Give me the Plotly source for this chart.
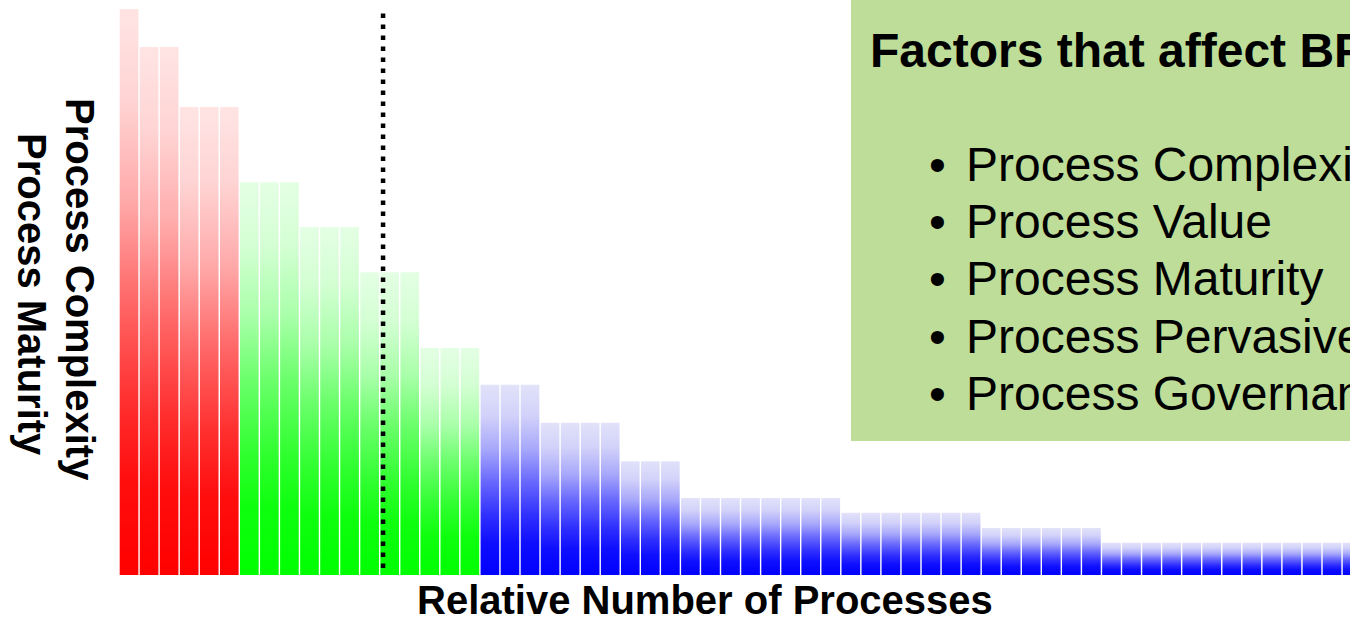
import plotly.graph_objects as go

# ---------------- data ----------------
process_rank = list(range(1, 63))
complexity = [
    100.0, 93.3, 93.3, 82.7, 82.7, 82.7,
    69.4, 69.4, 69.4, 61.5, 61.5, 61.5, 53.5, 53.5, 53.5, 40.1, 40.1, 40.1,
    33.6, 33.6, 33.6, 26.9, 26.9, 26.9, 26.9, 20.1, 20.1, 20.1,
    13.6, 13.6, 13.6, 13.6, 13.6, 13.6, 13.6, 13.6,
    11.0, 11.0, 11.0, 11.0, 11.0, 11.0, 11.0,
    8.3, 8.3, 8.3, 8.3, 8.3, 8.3,
    5.7, 5.7, 5.7, 5.7, 5.7, 5.7, 5.7, 5.7, 5.7, 5.7, 5.7, 5.7, 5.7,
]
tier = (
    ["high", "high", "high", "high", "high", "high"]
    + ["mid", "mid", "mid", "mid", "mid", "mid", "mid", "mid", "mid", "mid", "mid", "mid"]
    + ["low", "low", "low", "low", "low", "low", "low", "low", "low", "low", "low",
       "low", "low", "low", "low", "low", "low", "low", "low", "low", "low", "low",
       "low", "low", "low", "low", "low", "low", "low", "low", "low", "low", "low",
       "low", "low", "low", "low", "low", "low", "low", "low", "low", "low", "low"]
)
threshold_rank = 13.67
x_title = "Relative Number of Processes"
y_title_lines = ["Process Complexity", "Process Maturity"]
box_title = "Factors that affect BPM"
factors = ["Process Complexity", "Process Value", "Process Maturity",
           "Process Pervasiveness", "Process Governance"]

# ---------------- style ----------------
tier_colors = {
    "high": ((255, 0, 0), (255, 228, 228)),
    "mid": ((0, 255, 0), (228, 255, 228)),
    "low": ((0, 0, 255), (226, 226, 250)),
}
# (fraction from bottom, fraction towards pale)
profile = [(0.0, 0.0), (0.17, 0.06), (0.31, 0.21), (0.49, 0.46),
           (0.66, 0.74), (0.84, 0.93), (1.0, 1.0)]


def mix(c0, c1, t):
    return "rgb(%d,%d,%d)" % tuple(round(a + (b - a) * t) for a, b in zip(c0, c1))


def scale_for(t):
    full, pale = tier_colors[t]
    return [[f, mix(full, pale, m)] for f, m in profile]


BAR_W = 0.93
W, H = 1350, 620
L, R, T, B = 119, 0, 0, 45
PW, PH = W - L - R, H - T - B
FONT = "Arial, Liberation Sans, sans-serif"


def px_x(px):
    return (px - L) / PW


def px_y(py):
    return (T + PH - py) / PH


fig = go.Figure()
for r, v, t in zip(process_rank, complexity, tier):
    fig.add_trace(go.Scatter(
        x=[r - BAR_W / 2, r + BAR_W / 2, r + BAR_W / 2, r - BAR_W / 2, r - BAR_W / 2],
        y=[0, 0, v, v, 0],
        mode="lines",
        fill="toself",
        fillgradient=dict(type="vertical", colorscale=scale_for(t)),
        line=dict(width=0, color="rgba(0,0,0,0)"),
        hoverinfo="skip",
        showlegend=False,
    ))

# threshold dotted line
fig.add_shape(type="line", xref="x", yref="paper",
              x0=threshold_rank, x1=threshold_rank, y0=px_y(568), y1=px_y(7),
              line=dict(color="black", width=4.5, dash="4.5px,6.5px"), layer="above")

# factors box
fig.add_shape(type="rect", xref="paper", yref="paper",
              x0=px_x(851), x1=1.3, y0=px_y(441), y1=1.3,
              fillcolor="#BDDD99", line=dict(width=0), layer="below")

ann = []
ann.append(dict(text="<b>%s</b>" % x_title, xref="paper", yref="paper",
                x=px_x(705), y=px_y(600), xanchor="center", yanchor="middle",
                showarrow=False, font=dict(family=FONT, size=40, color="black")))
ann.append(dict(text="<b>%s</b>" % y_title_lines[0], xref="paper", yref="paper",
                x=px_x(80), y=px_y(289), xanchor="center", yanchor="middle", textangle=90,
                showarrow=False, font=dict(family=FONT, size=40, color="black")))
ann.append(dict(text="<b>%s</b>" % y_title_lines[1], xref="paper", yref="paper",
                x=px_x(32), y=px_y(294), xanchor="center", yanchor="middle", textangle=90,
                showarrow=False, font=dict(family=FONT, size=40, color="black")))
ann.append(dict(text="<b>%s</b>" % box_title, xref="paper", yref="paper",
                x=px_x(868), y=px_y(50), xanchor="left", yanchor="middle",
                showarrow=False, font=dict(family=FONT, size=48, color="black")))
line_y = [164, 221, 278, 336, 393]
for yy, txt in zip(line_y, factors):
    ann.append(dict(text="•", xref="paper", yref="paper",
                    x=px_x(937), y=px_y(yy), xanchor="center", yanchor="middle",
                    showarrow=False, font=dict(family=FONT, size=48, color="black")))
    ann.append(dict(text=txt, xref="paper", yref="paper",
                    x=px_x(964), y=px_y(yy), xanchor="left", yanchor="middle",
                    showarrow=False, font=dict(family=FONT, size=48, color="black")))

fig.update_layout(
    width=W, height=H,
    margin=dict(l=L, r=R, t=T, b=B, pad=0),
    paper_bgcolor="white", plot_bgcolor="white",
    xaxis=dict(range=[0.5, 0.5 + PW / 20.05], visible=False, fixedrange=True),
    yaxis=dict(range=[0, PH / 5.66], visible=False, fixedrange=True),
    annotations=ann,
    hovermode=False,
    showlegend=False,
)

fig.write_html("out.html", config={"displayModeBar": False},
               post_script="document.body.style.margin='0';document.body.style.overflow='hidden';")
